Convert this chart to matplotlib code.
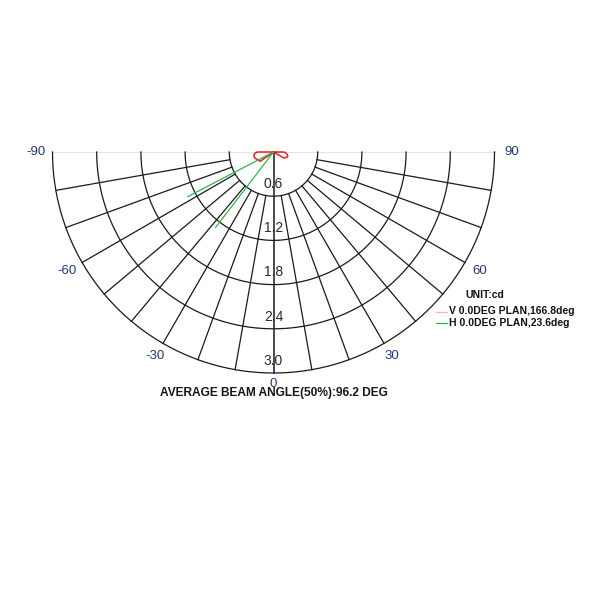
import numpy as np
import matplotlib
matplotlib.use("Agg")
import matplotlib.pyplot as plt
from matplotlib.lines import Line2D

plt.rcParams['font.family'] = ['Liberation Sans', 'DejaVu Sans']

# ---- data ----
ring_values = [0.6, 1.2, 1.8, 2.4, 3.0]
ring_labels = ["0.6", "1.2", "1.8", "2.4", "3.0"]
spoke_angles = [-80, -70, -60, -50, -40, -30, -20, -10, 10, 20, 30, 40, 50, 60, 70, 80]
angle_tick_values = [-90, -60, -30, 0, 30, 60, 90]
angle_tick_labels = ["-90", "-60", "-30", "0", "30", "60", "90"]

# V plane (red), angles in degrees
v_angles = [-95, -90, -85, -80, -75, -70, -65, -60, -55, -50, -45, -40, -30, -20, -10, 0,
            10, 20, 30, 40, 45, 50, 55, 60, 65, 70, 75, 80, 85, 90, 95]
v_values = [0.0, 0.22, 0.26, 0.27, 0.27, 0.26, 0.24, 0.23, 0.22, 0.0, 0.0, 0.0, 0.0, 0.0, 0.0, 0.0,
            0.0, 0.0, 0.0, 0.0, 0.0, 0.0, 0.0, 0.16, 0.18, 0.20, 0.20, 0.19, 0.17, 0.14, 0.0]
# H plane (green)
h_angles = [-62.5, -50, -37.5]
h_values = [1.31, 0.0, 1.29]

title = "AVERAGE BEAM ANGLE(50%):96.2 DEG"
unit_text = "UNIT:cd"
legend_v = "V 0.0DEG PLAN,166.8deg"
legend_h = "H 0.0DEG PLAN,23.6deg"


def to_xy(angles_deg, radii):
    """Polar (angle from downward vertical, positive to the right) -> cartesian."""
    t = np.deg2rad(np.asarray(angles_deg, dtype=float))
    r = np.asarray(radii, dtype=float)
    return r * np.sin(t), -r * np.cos(t)


# ---- figure ----
W = H = 600
fig = plt.figure(figsize=(6, 6), dpi=100)
fig.patch.set_facecolor("white")

rmax = ring_values[-1]
cx, cy, R = 273.5, 152.0, 221.0
ax = fig.add_axes([(cx - R) / W, 1 - (cy + R) / H, 2 * R / W, R / H])
ax.set_xlim(-rmax, rmax)
ax.set_ylim(-rmax, 0)
ax.axis('off')

grid_col = "#1a1a1a"
lw = 0.9
arc = np.linspace(-90, 90, 361)
for rv in ring_values:
    x, y = to_xy(arc, np.full_like(arc, rv))
    ax.plot(x, y, color=grid_col, lw=lw, clip_on=False)
for a in spoke_angles:
    x, y = to_xy([a, a], [ring_values[0], rmax])
    ax.plot(x, y, color=grid_col, lw=lw, clip_on=False)
# zero line from centre
x, y = to_xy([0, 0], [0, rmax])
ax.plot(x, y, color=grid_col, lw=1.1, clip_on=False)
# faint horizontal diameter
x, y = to_xy([-90, 90], [rmax, rmax])
ax.plot(x, y, color="#e4e4e4", lw=0.8, clip_on=False, zorder=0)

# ring labels
for rv, lab in zip(ring_values, ring_labels):
    x, y = to_xy([0], [rv - 0.165])
    ax.text(x[0], y[0], lab, ha='center', va='center', fontsize=10, color="#2a2a2a",
            clip_on=False)
# angle labels (text boxes sit a little closer at the bottom)
for a, lab in zip(angle_tick_values, angle_tick_labels):
    r_lab = 3.23 - 0.08 * max(0.0, np.cos(np.deg2rad(a))) ** 8
    x, y = to_xy([a], [r_lab])
    ax.text(x[0], y[0], lab, ha='center', va='center', fontsize=9.5,
            color="#23387a", clip_on=False)

# curves
x, y = to_xy(v_angles, v_values)
ax.plot(x, y, color="#e41e26", lw=1.1, clip_on=False, zorder=5)
x, y = to_xy(h_angles, h_values)
ax.plot(x, y, color="#2fb44a", lw=0.9, clip_on=False, zorder=5)

# title
fig.text(cx / W, 1 - 393 / H, title, ha='center', va='center', fontsize=8.6,
         color="#151515", fontweight='bold')

# legend
fig.text(465 / W, 1 - 295 / H, unit_text, ha='left', va='center', fontsize=7.5,
         fontweight='bold', color="#111111")
fig.text(449 / W, 1 - 311.5 / H, legend_v, ha='left', va='center', fontsize=7.5,
         fontweight='bold', color="#111111")
fig.text(449 / W, 1 - 323 / H, legend_h, ha='left', va='center', fontsize=7.5,
         fontweight='bold', color="#111111")
fig.add_artist(Line2D([436 / W, 447 / W], [1 - 311.5 / H, 1 - 311.5 / H], color="#f2b8b8", lw=0.9))
fig.add_artist(Line2D([436 / W, 447 / W], [1 - 323 / H, 1 - 323 / H], color="#2fb44a", lw=0.9))

fig.savefig("out.png", dpi=100, facecolor="white")
